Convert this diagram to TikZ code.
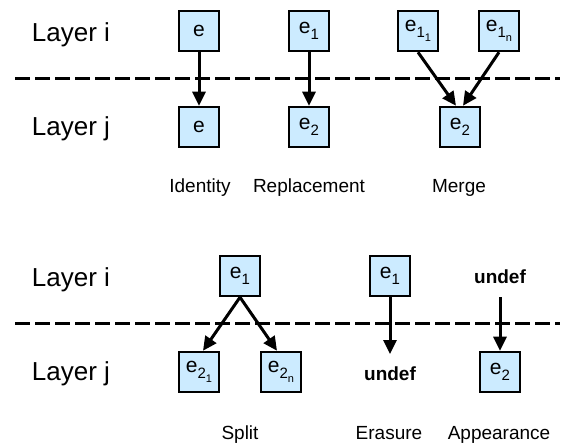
\documentclass[tikz,border=0pt]{standalone}
\usepackage{fontspec}
\setmainfont{Liberation Sans}
\usetikzlibrary{arrows.meta}
\definecolor{boxfill}{RGB}{204,235,255}
% lowered, smaller index text (nests for double subscripts)
\newcommand\subtxt[2]{\raisebox{-0.28em}{\fontsize{#1}{#1}\selectfont #2}}
\begin{document}
\begin{tikzpicture}[x=1pt,y=-1pt,
  elem/.style={draw, line width=2.5pt, fill=boxfill, minimum size=40pt,
    inner sep=0pt, font=\fontsize{21}{21}\selectfont},
  layer/.style={anchor=base, font=\fontsize{26}{26}\selectfont},
  caption/.style={anchor=base, font=\fontsize{19}{19}\selectfont},
  undefl/.style={anchor=base, inner sep=0pt, font=\fontsize{19}{19}\selectfont\bfseries},
  sep/.style={line width=3pt, dash pattern=on 15pt off 5pt},
  link/.style={line width=3pt, -{Triangle[length=14pt,width=13pt]}}]
\useasboundingbox (0,0) rectangle (563,443);

% ---------- upper panel ----------
\coordinate (s1l) at (15,79);
\coordinate (s1r) at (560,79);
\draw[sep] (s1l) -- (s1r);
\node[layer] (li1) at (71,42) {Layer i};
\node[layer] (lj1) at (71,136) {Layer j};

\node[elem] (a1) at (199,31) {e};
\node[elem] (a2) at (199,127) {e};
\node[elem] (b1) at (309,31) {e\subtxt{15}{1}};
\node[elem] (b2) at (309,127) {e\subtxt{15}{2}};
\node[elem] (c1) at (418,31) {e\subtxt{15}{1\subtxt{11}{1}}};
\node[elem] (c2) at (499,31) {e\subtxt{15}{1\subtxt{11}{n}}};
\node[elem] (c3) at (460,127) {e\subtxt{15}{2}};

\draw[link] (a1.south) -- (a2.north);
\draw[link] (b1.south) -- (b2.north);
\draw[link] (c1.south) -- ([xshift=-4pt]c3.north);
\draw[link] (c2.south) -- ([xshift=3pt]c3.north);

\node[caption] (capid) at (200,193) {Identity};
\node[caption] (caprep) at (309,193) {Replacement};
\node[caption] (capmer) at (459,193) {Merge};

% ---------- lower panel ----------
\coordinate (s2l) at (15,324);
\coordinate (s2r) at (560,324);
\draw[sep] (s2l) -- (s2r);
\node[layer] (li2) at (71,287) {Layer i};
\node[layer] (lj2) at (71,381) {Layer j};

\node[elem] (d1) at (240,276) {e\subtxt{15}{1}};
\node[elem] (d2) at (199,372) {e\subtxt{15}{2\subtxt{11}{1}}};
\node[elem] (d3) at (281,372) {e\subtxt{15}{2\subtxt{11}{n}}};
\draw[link] (d1.south) -- ([xshift=4pt]d2.north);
\draw[link] (d1.south) -- ([xshift=-4pt]d3.north);

\node[elem] (f1) at (390,276) {e\subtxt{15}{1}};
\node[undefl] (f2) at (390,381) {undef};
\draw[link, shorten >=13pt] (f1.south) -- (f2.north);

\node[undefl] (g1) at (500,284) {undef};
\node[elem] (g2) at (500,372) {e\subtxt{15}{2}};
\draw[link, shorten <=13pt] (g1.south) -- (g2.north);

\node[caption] (capspl) at (240,440) {Split};
\node[caption] (capera) at (389,440) {Erasure};
\node[caption] (capapp) at (499,440) {Appearance};
\end{tikzpicture}
\end{document}
